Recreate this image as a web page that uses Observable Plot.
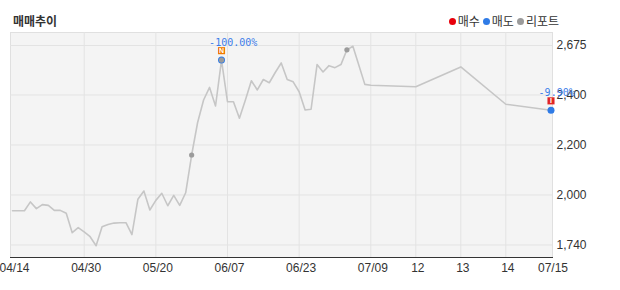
<!DOCTYPE html>
<html><head><meta charset="utf-8">
<script src="https://cdn.jsdelivr.net/npm/d3@7"></script>
<script src="https://cdn.jsdelivr.net/npm/@observablehq/plot@0.6"></script>
<style>
body{margin:0;background:#fff;font-family:"Liberation Sans",Arial,sans-serif;}
#hdr{position:relative;width:620px;height:28px;}
#title{position:absolute;left:13px;top:15px;font:bold 12px/12px "Noto Sans CJK KR";color:#333;}
#legend{position:absolute;right:61px;top:15px;display:flex;align-items:center;font:12px/12px "Noto Sans CJK KR";color:#333;}
.item{display:flex;align-items:center;margin-left:3px;}
.sw{display:inline-block;width:7px;height:7px;border-radius:50%;margin-right:2px;}
#chart svg{display:block;}
</style></head><body>
<div id="hdr"><div id="title">매매추이</div><div id="legend"></div></div>
<div id="chart"></div>
<script>
// ---- data ----
const values = [
  1918,1918,1918,1964,1929,1950,1946,1920,1920,1905,
  1804,1830,1808,1783,1736,1835,1847,1854,1856,1856,
  1794,1978,2016,1922,1972,2007,1944,1998,1946,2009,
  2160,2290,2380,2442,2356,2594,2373,2373,2307,2380,
  2479,2428,2486,2468,2525,2578,2486,2473,2418,2340,
  2343,2569,2528,2563,2552,2569,2651,2671,2565,2459,
  2454,2446,2556,2363,2339
];
const xTickIdx = [0, 12, 24, 36, 48, 60, 61, 62, 63, 64];
const xTickLabels = ["04/14","04/30","05/20","06/07","06/23","07/09","12","13","14","07/15"];
const yTicks = [1740, 2000, 2200, 2400, 2675];
const sellIdx = [35, 64];
const sellPct = ["-100.00%", "-9.90%"];
const reportIdx = [30, 35, 56];
const iconIdx = [35, 64];
const iconText = ["N", "I"];
const legendLabels = ["매수", "매도", "리포트"];

// ---- styles ----
const legendColors = ["#e8000b", "#2f7be6", "#9b9b9b"];
const iconColors = ["#f07800", "#e02525"];
const blue = "#2f7be6";

const legend = document.getElementById("legend");
legendLabels.forEach((t, k) => {
  const it = document.createElement("span");
  it.className = "item";
  it.innerHTML = `<span class="sw" style="background:${legendColors[k]}"></span><span>${t}</span>`;
  legend.appendChild(it);
});

const series = values.map((v, i) => ({i, v}));
const sells = sellIdx.map((i, k) => ({i, v: values[i], pct: sellPct[k]}));
const reports = reportIdx.map(i => ({i, v: values[i]}));
const icons = iconIdx.map((i, k) => ({i, v: values[i], t: iconText[k], k}));

const chart = Plot.plot({
  width: 620, height: 262,
  marginTop: 4, marginBottom: 33, marginLeft: 10, marginRight: 68,
  style: {fontFamily: '"Liberation Sans", Arial, sans-serif', fontSize: "12px", color: "#333", background: "transparent", overflow: "visible"},
  x: {type: "linear", domain: [0, 60, 61, 62, 63, 64], range: [12, 370.3, 415.3, 460.3, 505.3, 550.5], axis: null},
  y: {type: "linear", domain: yTicks, range: [216.5, 166.5, 116.5, 66.5, 17], axis: null},
  marks: [
    Plot.frame({fill: "#f4f4f4", stroke: "#e0e0e0"}),
    Plot.ruleY(yTicks, {stroke: "#e3e3e3"}),
    Plot.ruleX(xTickIdx.slice(1, -1), {stroke: "#e3e3e3"}),
    Plot.frame({anchor: "bottom", stroke: "#333"}),
    Plot.axisX({ticks: xTickIdx, tickFormat: d => xTickLabels[xTickIdx.indexOf(d)], tickSize: 0, tickPadding: 6, dx: 2, fontSize: 12, fill: "#333", label: null}),
    Plot.axisY({anchor: "right", ticks: yTicks, tickFormat: d3.format(","), tickSize: 0, tickPadding: 4, fontSize: 12, fill: "#333", label: null}),
    Plot.line(series, {x: "i", y: "v", stroke: "#c6c6c6", strokeWidth: 1.6}),
    Plot.dot(sells, {x: "i", y: "v", r: 3.5, fill: blue}),
    Plot.dot(reports, {x: "i", y: "v", r: 2.6, fill: "#9b9b9b"}),
    Plot.dot(icons, {x: "i", y: "v", symbol: "square", r: 4, dy: -9.4, fill: d => iconColors[d.k]}),
    Plot.text(icons, {x: "i", y: "v", text: "t", dy: -9.4, fill: "white", fontSize: 7, fontWeight: "bold"}),
    Plot.text(sells, {x: "i", y: "v", text: "pct", dx: -12.4, dy: -17.5, textAnchor: "start", fill: "#3b7de9", fontFamily: "DejaVu Sans Mono", fontSize: 10})
  ]
});
document.getElementById("chart").appendChild(chart);
</script>
</body></html>
